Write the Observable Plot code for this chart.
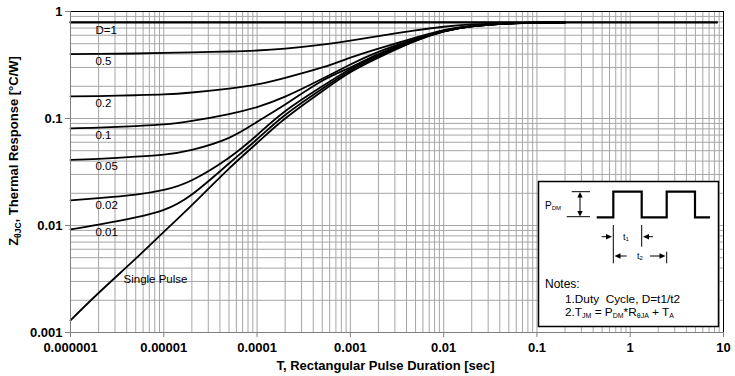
<!DOCTYPE html>
<html><head><meta charset="utf-8">
<script src="https://cdn.jsdelivr.net/npm/d3@7"></script>
<script src="https://cdn.jsdelivr.net/npm/@observablehq/plot@0.6"></script>
<style>body{margin:0;background:#fff} svg{display:block}</style>
</head><body><div id="chart"></div>
<script>
// ---- data ----
const pulseT = [1e-6, 2e-6, 5e-6, 1e-5, 2e-5, 5e-5, 1e-4, 2e-4, 5e-4, 1e-3, 2e-3, 5e-3, 1e-2, 2e-2, 5e-2, 0.1, 0.2];
const zD05    = [0.400, 0.401, 0.405, 0.410, 0.415, 0.423, 0.432, 0.450, 0.490, 0.535, 0.590, 0.665, 0.720, 0.757, 0.780, 0.788, 0.790];
const zD02    = [0.161, 0.162, 0.165, 0.168, 0.175, 0.190, 0.208, 0.240, 0.300, 0.370, 0.450, 0.570, 0.670, 0.735, 0.775, 0.786, 0.790];
const zD01    = [0.081, 0.082, 0.085, 0.088, 0.095, 0.110, 0.128, 0.160, 0.235, 0.320, 0.420, 0.555, 0.660, 0.730, 0.773, 0.786, 0.790];
const zD005   = [0.041, 0.042, 0.044, 0.046, 0.051, 0.066, 0.093, 0.135, 0.225, 0.300, 0.400, 0.545, 0.655, 0.728, 0.772, 0.786, 0.790];
const zD002   = [0.0172, 0.0180, 0.0194, 0.0215, 0.0265, 0.043, 0.070, 0.117, 0.200, 0.290, 0.390, 0.540, 0.653, 0.727, 0.771, 0.786, 0.790];
const zD001   = [0.0092, 0.0102, 0.0119, 0.0140, 0.0195, 0.038, 0.064, 0.108, 0.190, 0.280, 0.380, 0.535, 0.651, 0.726, 0.770, 0.785, 0.790];
const zSingle = [0.0013, 0.00234, 0.0049, 0.0087, 0.0155, 0.034, 0.059, 0.100, 0.180, 0.270, 0.370, 0.530, 0.650, 0.725, 0.770, 0.785, 0.790];
const seriesNames = ["0.5", "0.2", "0.1", "0.05", "0.02", "0.01", "Single Pulse"];
const seriesValues = [zD05, zD02, zD01, zD005, zD002, zD001, zSingle];
const dutyOneT = [1e-6, 8.5];
const dutyOneZ = [0.79, 0.79];
const dutyOneName = "D=1";
const labelT = 1.85e-6;
const singleLabelT = 3.7e-6, singleLabelZ = 0.00313;
const xTicks = [1e-6, 1e-5, 1e-4, 1e-3, 1e-2, 0.1, 1, 10];
const xTickLabels = ["0.000001", "0.00001", "0.0001", "0.001", "0.01", "0.1", "1", "10"];
const yTicks = [0.001, 0.01, 0.1, 1];
const yTickLabels = ["0.001", "0.01", "0.1", "1"];
const xTitle = "T, Rectangular Pulse Duration [sec]";

// ---- build tables ----
const rows = [];
seriesNames.forEach((name, s) => pulseT.forEach((t, i) => rows.push({series: name, t, z: seriesValues[s][i]})));
const d1rows = dutyOneT.map((t, i) => ({t, z: dutyOneZ[i]}));
const labelRows = [{text: dutyOneName, z: dutyOneZ[0]}]
  .concat(seriesNames.slice(0, 6).map((n, s) => ({text: n, z: seriesValues[s][1]})));

const minorX = [], minorY = [];
for (let k = -6; k <= 0; k++) for (let m = 1; m <= 9; m++) minorX.push(+(m * Math.pow(10, k)).toPrecision(3));
minorX.push(10);
for (let k = -3; k <= -1; k++) for (let m = 1; m <= 9; m++) minorY.push(+(m * Math.pow(10, k)).toPrecision(3));
minorY.push(1);

const FONT = "'Liberation Sans', Arial, sans-serif";
const grid = "#a6a6a6";

const p = Plot.plot({
  width: 735, height: 376,
  marginLeft: 70, marginRight: 12, marginTop: 11, marginBottom: 44,
  style: {fontFamily: FONT, background: "white", color: "black"},
  x: {type: "log", domain: [1e-6, 10]},
  y: {type: "log", domain: [1e-3, 1]},
  marks: [
    Plot.gridX(minorX, {stroke: grid, strokeOpacity: 1}),
    Plot.gridY(minorY, {stroke: grid, strokeOpacity: 1}),
    Plot.line(rows, {x: "t", y: "z", z: "series", curve: "natural", stroke: "black", strokeWidth: 1.8}),
    Plot.line(d1rows, {x: "t", y: "z", stroke: "black", strokeWidth: 2.3}),
    Plot.text(labelRows, {x: () => labelT, y: "z", text: "text", textAnchor: "start", dy: 7.5, fontSize: 11.5, fill: "black"}),
    Plot.text([{text: seriesNames[6]}], {x: () => singleLabelT, y: () => singleLabelZ, text: "text", textAnchor: "start", fontSize: 11.5, fill: "black"}),
    Plot.frame({stroke: "black"}),
    Plot.ruleX([1e-6], {stroke: "#7f7f7f"}),
    Plot.ruleY([1e-3], {stroke: "#7f7f7f"}),
    Plot.axisX(xTicks, {tickFormat: d => xTickLabels[xTicks.indexOf(d)], tickSize: 5, tickPadding: 5, fontSize: 13, fontWeight: "bold", stroke: "#7f7f7f", fill: "black", label: null}),
    Plot.axisY(yTicks, {tickFormat: d => yTickLabels[yTicks.indexOf(d)], tickSize: 5, tickPadding: 3, fontSize: 13, fontWeight: "bold", stroke: "#7f7f7f", fill: "black", label: null})
  ]
});
document.getElementById("chart").appendChild(p);

const svg = d3.select(p);
const X = p.scale("x"), Y = p.scale("y");

// x title
svg.append("text").attr("x", 385.5).attr("y", 369.5).attr("text-anchor", "middle")
  .attr("font-family", FONT).attr("font-size", 13).attr("font-weight", "bold").attr("fill", "black").text(xTitle);

// y title
const yt = svg.append("text").attr("transform", "translate(18,151) rotate(-90)").attr("text-anchor", "middle")
  .attr("font-family", FONT).attr("font-size", 13).attr("font-weight", "bold").attr("fill", "black");
yt.append("tspan").text("Z");
yt.append("tspan").attr("font-size", 8.5).attr("dy", 3).text("θJC");
yt.append("tspan").attr("dy", -3).text(", Thermal Response [°C/W]");

// inset notes box
const bx = X.apply(10) - 5 - 180, by = Y.apply(1e-3) - 6 - 145;
const g = svg.append("g").attr("transform", `translate(${bx},${by})`)
  .attr("font-family", FONT).attr("fill", "black").attr("text-anchor", "start");
g.append("rect").attr("x", 0.5).attr("y", 0.5).attr("width", 180).attr("height", 145).attr("fill", "white").attr("stroke", "black").attr("stroke-width", 1.5);
g.append("path").attr("d", "M58.7,36.3H75.3V10.7H103.7V36.3H128.7V10.7H157V36.3H172").attr("fill", "none").attr("stroke", "black").attr("stroke-width", 2.2);
const thin = (d) => g.append("path").attr("d", d).attr("fill", "none").attr("stroke", "black").attr("stroke-width", 1);
const head = (d) => g.append("path").attr("d", d).attr("fill", "black").attr("stroke", "none");
// P_DM arrow
thin("M33.7,10.7H52M28.7,35.7H52M42,14V32.5");
head("M42,11L39.3,16.5H44.7Z");
head("M42,35.4L39.3,29.9H44.7Z");
const pt = g.append("text").attr("x", 7).attr("y", 27.6).attr("font-size", 10);
pt.append("tspan").text("P");
pt.append("tspan").attr("font-size", 6).attr("dy", 1).text("DM");
// t1
thin("M75.3,44V82.3M103.7,44V65.7M63.7,55.7H70M115,55.7H109");
head("M74,55.7L68,52.9V58.5Z");
head("M105,55.7L111,52.9V58.5Z");
const t1 = g.append("text").attr("x", 85).attr("y", 59).attr("font-size", 9);
t1.append("tspan").text("t");
t1.append("tspan").attr("font-size", 6).attr("dy", 1).text("1");
// t2
thin("M128.7,70.7V82.3M88.7,75H80M112,75H122");
head("M76.5,75L82.5,72.2V77.8Z");
head("M127.5,75L121.5,72.2V77.8Z");
const t2 = g.append("text").attr("x", 99).attr("y", 78.3).attr("font-size", 9);
t2.append("tspan").text("t");
t2.append("tspan").attr("font-size", 6).attr("dy", 1).text("2");
// notes
g.append("text").attr("x", 7).attr("y", 106.6).attr("font-size", 12).text("Notes:");
g.append("text").attr("x", 27).attr("y", 122.3).attr("font-size", 11.8).style("white-space", "pre").text("1.Duty  Cycle, D=t1/t2");
const n2 = g.append("text").attr("x", 27).attr("y", 135.2).attr("font-size", 11.8);
const parts = [["2.T", 0], ["JM", 1], [" = P", 0], ["DM", 1], ["*R", 0], ["θJA", 1], [" + T", 0], ["A", 1]];
let prev = 0;
parts.forEach(([s, sub]) => {
  const ts = n2.append("tspan").text(s).attr("dy", sub ? 2 : (prev ? -2 : 0));
  if (sub) ts.attr("font-size", 7);
  prev = sub;
});
</script>
</body></html>
